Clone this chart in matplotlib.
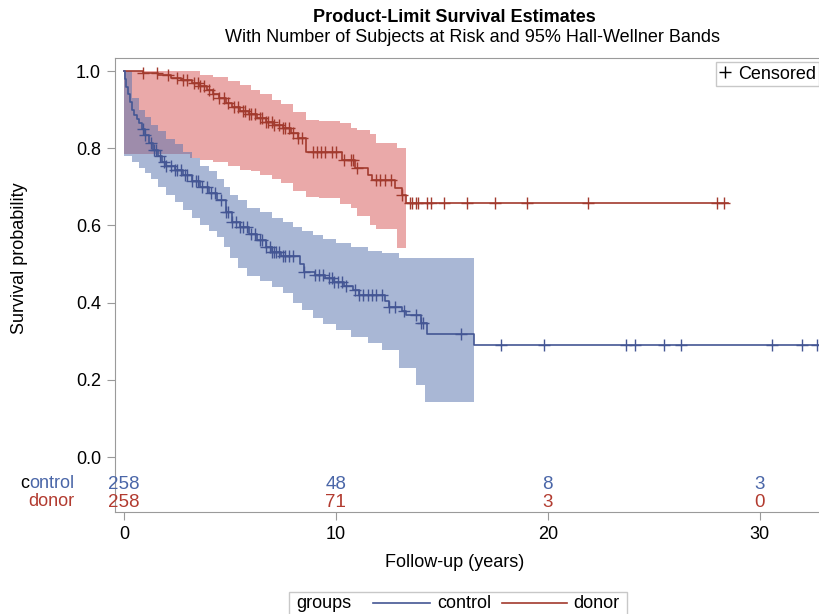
import numpy as np
import matplotlib
matplotlib.use("Agg")
import matplotlib.pyplot as plt
from matplotlib.lines import Line2D
from matplotlib.patches import Rectangle

plt.rcParams['font.family'] = ['Liberation Sans', 'DejaVu Sans']
plt.rcParams['font.size'] = 13

# Kaplan-Meier step estimates
controlTime = [0, 0.05, 0.1, 0.2, 0.3, 0.4, 0.5, 0.6, 0.7, 0.85, 1.0, 1.2, 1.37, 1.6, 1.8, 2.0, 2.4, 2.8, 3.2, 3.6,
               4.0, 4.4, 4.8, 5.1, 5.5, 5.9, 6.3, 6.7, 7.0, 7.4, 8.3, 8.5, 9.0, 9.5, 9.9, 10.4, 10.8, 11.1, 12.3, 12.5,
               13.1, 13.3, 14.0, 14.3, 16.5, 33.6]
controlSurv = [1.0, 0.98, 0.96, 0.94, 0.92, 0.90, 0.885, 0.875, 0.865, 0.85, 0.835, 0.815, 0.795, 0.78, 0.765, 0.755,
               0.745, 0.73, 0.715, 0.70, 0.685, 0.665, 0.635, 0.61, 0.595, 0.578, 0.562, 0.545, 0.53, 0.522, 0.50, 0.48,
               0.472, 0.463, 0.453, 0.443, 0.432, 0.42, 0.405, 0.39, 0.378, 0.367, 0.347, 0.318, 0.29, 0.29]

donorTime = [0, 0.9, 1.6, 2.2, 2.7, 3.2, 3.6, 3.9, 4.2, 4.5, 4.8, 5.1, 5.5, 5.9, 6.3, 6.7, 7.1, 7.5, 7.9, 8.2,
             8.6, 10.3, 10.9, 11.5, 11.7, 12.8, 13.1, 13.3, 28.5]
donorSurv = [1.0, 0.995, 0.99, 0.983, 0.977, 0.97, 0.962, 0.952, 0.94, 0.93, 0.918, 0.907, 0.897, 0.888, 0.878, 0.868,
             0.86, 0.852, 0.84, 0.826, 0.79, 0.77, 0.75, 0.73, 0.717, 0.697, 0.68, 0.658, 0.658]

# 95% Hall-Wellner bands
controlBandTime = [0, 0.4, 0.7, 1.0, 1.3, 1.6, 2.0, 2.4, 2.8, 3.2, 3.6, 4.0, 4.4, 4.7, 5.0, 5.4, 5.8, 6.4, 7.0, 7.5,
                   8.0, 8.4, 8.9, 9.4, 10.0, 10.7, 11.5, 12.2, 13.0, 13.8, 14.2, 16.5]
controlLower = [0.78, 0.765, 0.75, 0.735, 0.72, 0.70, 0.68, 0.66, 0.64, 0.62, 0.60, 0.585, 0.57, 0.545, 0.515, 0.49,
                0.47, 0.455, 0.44, 0.425, 0.40, 0.38, 0.36, 0.345, 0.328, 0.31, 0.295, 0.277, 0.23, 0.187, 0.142, 0.142]
controlUpper = [1.0, 0.93, 0.90, 0.88, 0.86, 0.845, 0.825, 0.81, 0.79, 0.775, 0.755, 0.74, 0.72, 0.70, 0.68, 0.665,
                0.645, 0.635, 0.62, 0.61, 0.595, 0.585, 0.575, 0.565, 0.555, 0.544, 0.535, 0.528, 0.516, 0.516, 0.516, 0.516]

donorBandTime = [0, 3.1, 3.6, 4.2, 4.9, 5.5, 6.0, 6.4, 7.0, 7.4, 8.0, 8.6, 9.2, 10.2, 10.7, 11.0, 11.6, 11.9, 12.9, 13.3]
donorLower = [0.785, 0.775, 0.77, 0.765, 0.755, 0.745, 0.74, 0.73, 0.72, 0.71, 0.69, 0.675, 0.67, 0.655, 0.645, 0.625,
              0.60, 0.59, 0.542, 0.542]
donorUpper = [1.0, 1.0, 0.99, 0.985, 0.975, 0.965, 0.95, 0.94, 0.925, 0.915, 0.895, 0.873, 0.87, 0.865, 0.852, 0.848,
              0.838, 0.815, 0.80, 0.80]

# censoring times
controlCensor = [0.9, 1.0, 1.3, 1.4, 1.5, 1.7, 1.9, 2.0, 2.2, 2.4, 2.5, 2.7, 2.9, 3.0, 3.2, 3.4, 3.5, 3.7, 3.9, 4.1,
                 4.3, 4.6, 4.8, 4.9, 5.1, 5.3, 5.5, 5.6, 5.8, 6.0, 6.2, 6.4, 6.5, 6.7, 6.9, 7.0, 7.1, 7.2, 7.3, 7.5,
                 7.6, 7.8, 8.0, 8.5, 9.0, 9.2, 9.4, 9.7, 9.8, 9.9, 10.1, 10.3, 10.5, 10.9, 11.1, 11.3, 11.5, 11.7,
                 11.9, 12.2, 12.5, 12.8, 13.2, 13.8, 14.0, 14.1, 15.9, 17.8, 19.8, 23.7, 24.1, 25.5, 26.3, 30.6, 32.0,
                 32.7]
donorCensor = [0.9, 1.55, 2.1, 2.5, 2.8, 3.0, 3.3, 3.5, 3.6, 3.8, 4.0, 4.2, 4.5, 4.7, 4.9, 5.2, 5.4, 5.6, 5.7, 5.9,
               6.0, 6.2, 6.4, 6.5, 6.7, 6.8, 7.0, 7.1, 7.3, 7.5, 7.6, 7.8, 8.0, 8.2, 8.4, 8.9, 9.1, 9.3, 9.5, 9.8,
               10.0, 10.4, 10.7, 10.8, 11.0, 11.9, 12.1, 12.3, 12.6, 13.1, 13.5, 13.6, 13.8, 13.9, 14.3, 14.5, 15.1,
               16.2, 17.5, 19.0, 21.9, 28.0, 28.3]

atRiskTimes = [0, 10, 20, 30]
controlAtRisk = [258, 48, 8, 3]
donorAtRisk = [258, 71, 3, 0]

blueLine = '#445694'
redLine = '#A23A2E'
blueText = '#4A66A8'
redText = '#B23B30'
frameGrey = '#9A9A9A'


def survAt(times, surv, t):
    idx = np.searchsorted(times, t, side='right') - 1
    return np.array(surv)[idx]


fig = plt.figure(figsize=(8.2, 6.14), dpi=100)
ax = fig.add_axes([115 / 820, 102 / 614, 721 / 820, 454 / 614])

ax.fill_between(donorBandTime, donorLower, donorUpper, step='post', color='#D75555', alpha=0.5, linewidth=0)
ax.fill_between(controlBandTime, controlLower, controlUpper, step='post', color='#5470AD', alpha=0.5, linewidth=0)

ax.step(donorTime, donorSurv, where='post', color=redLine, linewidth=1.2)
ax.step(controlTime, controlSurv, where='post', color=blueLine, linewidth=1.2)

ax.plot(donorCensor, survAt(donorTime, donorSurv, donorCensor), linestyle='none', marker='+',
        markersize=9, markeredgewidth=1.0, color=redLine)
ax.plot(controlCensor, survAt(controlTime, controlSurv, controlCensor), linestyle='none', marker='+',
        markersize=9, markeredgewidth=1.0, color=blueLine)

for t, n in zip(atRiskTimes, controlAtRisk):
    ax.text(t, -0.07, str(n), ha='center', va='center', color=blueText, fontsize=13.5)
for t, n in zip(atRiskTimes, donorAtRisk):
    ax.text(t, -0.117, str(n), ha='center', va='center', color=redText, fontsize=13.5)

ontrol = fig.text(74 / 820, 1 - 484 / 614, 'ontrol', ha='right', va='center', color=blueText, fontsize=13)
fig.text(74 / 820, 1 - 502 / 614, 'donor', ha='right', va='center', color=redText, fontsize=13)
ax.annotate('c', xy=(0, 0), xycoords=ontrol, ha='right', va='bottom', color='black', fontsize=13)

ax.set_xlim(-0.42, 33.6)
ax.set_ylim(-0.1425, 1.034)
ax.set_xticks([0, 10, 20, 30])
ax.set_yticks([0.0, 0.2, 0.4, 0.6, 0.8, 1.0])
ax.set_yticklabels(['0.0', '0.2', '0.4', '0.6', '0.8', '1.0'])
ax.tick_params(direction='out', length=6, color=frameGrey, labelsize=13, pad=4)
for side in ['left', 'bottom', 'top', 'right']:
    ax.spines[side].set_color(frameGrey)

ax.set_xlabel('Follow-up (years)', fontsize=13)
ax.xaxis.set_label_coords((455 - 115) / 721, -(554 - 512) / 454)
ax.set_ylabel('Survival probability', fontsize=13)
ax.yaxis.set_label_coords(-(115 - 28) / 721, (512 - 258) / 454)

ax.legend(handles=[Line2D([], [], linestyle='none', marker='+', markersize=9, color='black')],
          labels=['Censored'], loc='upper left', bbox_to_anchor=(716 / 820, 1 - 62 / 614),
          bbox_transform=fig.transFigure, borderaxespad=0, handlelength=0.6, handletextpad=0.4,
          fancybox=False, framealpha=1, edgecolor='#C8C8C8', fontsize=13, borderpad=0.2)

fig.text(454 / 820, 1 - 18 / 614, 'Product-Limit Survival Estimates', ha='center', va='center',
         fontsize=13, fontweight='bold')
fig.text(473 / 820, 1 - 37 / 614, 'With Number of Subjects at Risk and 95% Hall-Wellner Bands', ha='center',
         va='center', fontsize=13)

# group legend at the bottom
fig.patches.append(Rectangle((289 / 820, -0.02), 338 / 820, 0.02 + 22 / 614, transform=fig.transFigure,
                             facecolor='white', edgecolor='#C8C8C8', linewidth=1))
legY = 1 - 603 / 614
fig.text(296 / 820, legY, 'groups', ha='left', va='center', fontsize=13)
fig.lines.append(Line2D([373 / 820, 430 / 820], [legY, legY], transform=fig.transFigure, color=blueLine, linewidth=1.2))
fig.text(437 / 820, legY, 'control', ha='left', va='center', fontsize=13)
fig.lines.append(Line2D([502 / 820, 567 / 820], [legY, legY], transform=fig.transFigure, color=redLine, linewidth=1.2))
fig.text(573 / 820, legY, 'donor', ha='left', va='center', fontsize=13)

plt.savefig('out.png', dpi=100)
